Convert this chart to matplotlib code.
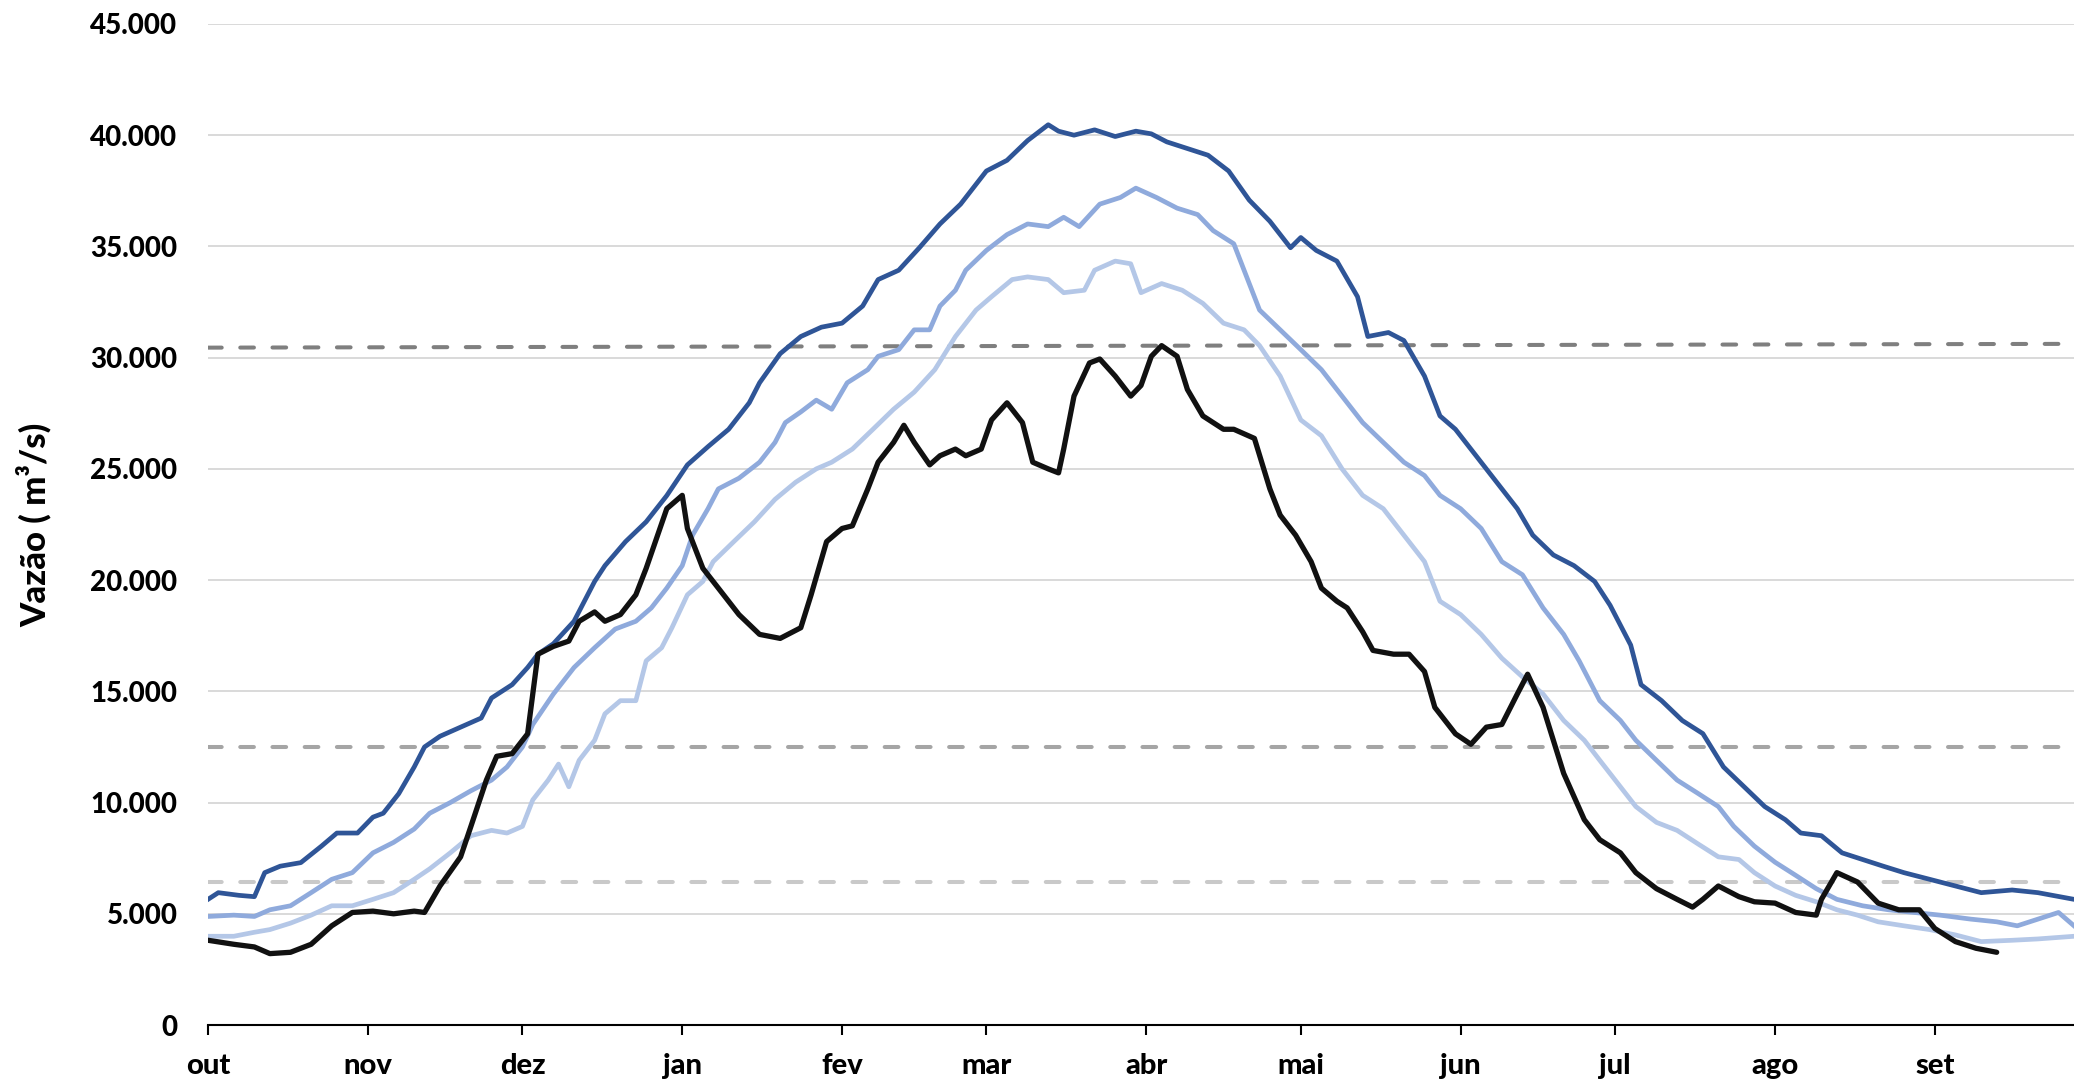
import numpy as np
import matplotlib
matplotlib.use("Agg")
import matplotlib.pyplot as plt
from matplotlib.ticker import FuncFormatter

# dias contados a partir de 1 de outubro
meses = ["out", "nov", "dez", "jan", "fev", "mar", "abr", "mai", "jun", "jul", "ago", "set"]
dias_mes = [31, 30, 31, 31, 28, 31, 30, 31, 30, 31, 31, 30]

dia_escuro = [0, 2, 6, 9, 11, 14, 18, 22, 25, 29, 32, 34, 37, 40, 42, 45, 49, 53, 55, 59, 62, 64, 67, 71,
              75, 77, 81, 85, 89, 93, 97, 101, 105, 107, 111, 115, 119, 123, 127, 130, 134, 138, 142, 146,
              151, 155, 159, 163, 165, 168, 172, 176, 180, 183, 186, 190, 194, 198, 202, 206, 210, 212,
              215, 219, 223, 225, 229, 232, 236, 239, 242, 246, 250, 254, 257, 261, 265, 269, 272, 276,
              278, 282, 286, 290, 294, 298, 302, 306, 309, 313, 317, 321, 325, 329, 334, 339, 344, 350,
              355, 362]
vazao_escuro = [5650, 5950, 5830, 5770, 6850, 7140, 7300, 8040, 8630, 8630, 9345, 9520, 10400, 11600,
                12500, 12980, 13390, 13800, 14700, 15300, 16070, 16670, 17140, 18150, 19940, 20650, 21730,
                22620, 23800, 25180, 26000, 26780, 27970, 28870, 30180, 30950, 31370, 31550, 32320, 33510,
                33930, 34940, 36010, 36900, 38390, 38870, 39760, 40470, 40180, 40000, 40240, 39940, 40180,
                40060, 39700, 39400, 39100, 38390, 37080, 36130, 34940, 35400, 34820, 34340, 32740, 30950,
                31130, 30770, 29170, 27380, 26780, 25590, 24400, 23210, 22020, 21130, 20650, 19940, 18870,
                17080, 15300, 14580, 13690, 13100, 11600, 10710, 9820, 9230, 8630, 8510, 7740, 7440, 7140,
                6850, 6550, 6250, 5950, 6070, 5950, 5650]

dia_medio = [0, 5, 9, 12, 16, 20, 24, 28, 32, 36, 40, 43, 47, 51, 55, 58, 61, 63, 67, 71, 75, 79, 83, 86,
             89, 92, 94, 97, 99, 103, 107, 110, 112, 115, 118, 121, 124, 128, 130, 134, 137, 140, 142,
             145, 147, 151, 155, 159, 163, 166, 169, 173, 177, 180, 184, 188, 192, 195, 199, 202, 204,
             208, 212, 216, 220, 224, 228, 232, 236, 239, 243, 247, 251, 255, 259, 263, 266, 270, 274,
             277, 281, 285, 289, 293, 296, 300, 304, 308, 312, 316, 321, 326, 331, 336, 342, 347, 351,
             355, 359, 362]
vazao_medio = [4880, 4940, 4880, 5180, 5360, 5950, 6550, 6850, 7740, 8210, 8810, 9520, 10000, 10530,
               11010, 11600, 12500, 13510, 14880, 16070, 16960, 17800, 18150, 18750, 19640, 20650, 22020,
               23210, 24100, 24580, 25300, 26190, 27080, 27560, 28090, 27680, 28870, 29460, 30060, 30360,
               31250, 31250, 32320, 33030, 33930, 34820, 35530, 36010, 35890, 36310, 35890, 36900, 37200,
               37620, 37200, 36720, 36430, 35710, 35120, 33330, 32140, 31250, 30360, 29460, 28270, 27080,
               26190, 25300, 24700, 23810, 23210, 22320, 20830, 20240, 18750, 17560, 16370, 14580, 13690,
               12800, 11900, 11010, 10420, 9820, 8930, 8040, 7320, 6730, 6130, 5650, 5360, 5180, 5060,
               4940, 4760, 4640, 4460, 4760, 5060, 4460]

dia_claro = [0, 5, 9, 12, 16, 20, 24, 28, 32, 36, 40, 43, 47, 51, 55, 58, 61, 63, 66, 68, 70, 72, 75, 77,
             80, 83, 85, 88, 90, 93, 96, 98, 102, 106, 110, 114, 118, 121, 125, 129, 133, 137, 141, 145,
             149, 152, 156, 159, 163, 166, 170, 172, 176, 179, 181, 185, 189, 193, 197, 201, 204, 208,
             212, 216, 220, 224, 228, 232, 236, 239, 243, 247, 251, 255, 259, 263, 267, 270, 274, 277,
             281, 285, 289, 293, 297, 300, 304, 308, 312, 316, 320, 324, 329, 334, 339, 344, 350, 355, 362]
vazao_claro = [3990, 3990, 4170, 4290, 4580, 4940, 5360, 5360, 5650, 5950, 6550, 7020, 7740, 8510, 8750,
               8630, 8930, 10120, 11010, 11730, 10710, 11900, 12800, 13990, 14580, 14580, 16370, 16960,
               17860, 19340, 19940, 20830, 21730, 22620, 23630, 24400, 25000, 25300, 25890, 26780, 27680,
               28450, 29460, 30950, 32140, 32740, 33510, 33630, 33510, 32920, 33030, 33930, 34340, 34220,
               32920, 33330, 33030, 32440, 31550, 31250, 30540, 29170, 27200, 26490, 25000, 23810, 23210,
               22020, 20830, 19050, 18450, 17560, 16490, 15650, 14880, 13690, 12800, 11900, 10710, 9820,
               9110, 8750, 8150, 7560, 7440, 6850, 6250, 5830, 5540, 5180, 4940, 4640, 4460, 4290, 4050,
               3750, 3810, 3870, 3990]

dia_atual = [0, 5, 9, 12, 16, 20, 24, 28, 32, 36, 40, 42, 45, 49, 51, 54, 56, 59, 62, 64, 67, 70, 72, 75,
             77, 80, 83, 85, 89, 92, 93, 96, 99, 103, 107, 111, 115, 117, 120, 123, 125, 128, 130, 133,
             135, 137, 140, 142, 145, 147, 150, 152, 155, 158, 160, 163, 165, 166, 168, 171, 173, 176,
             179, 181, 183, 185, 188, 190, 193, 197, 199, 203, 206, 208, 211, 214, 216, 219, 221, 224,
             226, 230, 233, 236, 238, 242, 245, 248, 251, 254, 256, 259, 263, 267, 270, 274, 277, 281,
             285, 288, 290, 293, 297, 300, 304, 308, 312, 313, 316, 320, 324, 328, 332, 335, 339, 343, 347]
vazao_atual = [3810, 3630, 3510, 3210, 3270, 3630, 4460, 5060, 5120, 5000, 5120, 5060, 6250, 7560, 8930,
               11010, 12080, 12200, 13090, 16670, 17020, 17260, 18150, 18570, 18150, 18450, 19340, 20530,
               23210, 23810, 22320, 20530, 19640, 18450, 17560, 17380, 17860, 19340, 21730, 22320, 22440,
               24100, 25300, 26190, 26960, 26190, 25180, 25590, 25890, 25590, 25890, 27200, 27970, 27080,
               25300, 25000, 24820, 25890, 28270, 29760, 29940, 29170, 28270, 28750, 30060, 30540, 30060,
               28570, 27380, 26780, 26780, 26370, 24100, 22920, 22020, 20830, 19640, 19050, 18750, 17680,
               16840, 16670, 16670, 15890, 14280, 13090, 12620, 13390, 13510, 14880, 15770, 14280, 11310,
               9230, 8330, 7740, 6850, 6130, 5650, 5300, 5650, 6250, 5770, 5540, 5480, 5060, 4940, 5650,
               6850, 6430, 5480, 5180, 5180, 4340, 3750, 3450, 3270]

# linhas de referência tracejadas (início e fim do ano)
ref_alta = [30450, 30620]
ref_media = [12500, 12500]
ref_baixa = [6430, 6430]

plt.rcParams["font.family"] = ["Lato", "DejaVu Sans"]
plt.rcParams["font.weight"] = "black"

fig = plt.figure(figsize=(20.74, 10.84), dpi=100)
ax = fig.add_axes([0.1003, 0.0544, 0.8997, 0.9235])

inicio = np.concatenate([[0], np.cumsum(dias_mes)])

for ref, cor in [(ref_alta, "#7f7f7f"), (ref_media, "#a5a5a5"), (ref_baixa, "#c9c9c9")]:
    ax.plot([0, 362], ref, color=cor, lw=2.9, dashes=(3.4, 4.6), dash_capstyle="round", zorder=2)

ax.plot(dia_claro, vazao_claro, color="#b4c7e7", lw=3.4, zorder=3)
ax.plot(dia_medio, vazao_medio, color="#8faadc", lw=3.4, zorder=4)
ax.plot(dia_escuro, vazao_escuro, color="#2f5597", lw=3.4, zorder=5)
ax.plot(dia_atual, vazao_atual, color="#111111", lw=3.8, zorder=6,
        solid_joinstyle="round", solid_capstyle="round")

ax.set_xlim(0, 362)
ax.set_ylim(0, 45000)
ax.set_yticks(np.arange(0, 45001, 5000))
ax.yaxis.set_major_formatter(FuncFormatter(lambda v, p: f"{int(v):,}".replace(",", ".")))
ax.set_xticks(inicio[:-1])
ax.set_xticklabels(meses, fontsize=21, fontweight="black")

ax.grid(axis="y", color="#d9d9d9", lw=1.4, zorder=0)
ax.set_axisbelow(True)
for s in ["top", "right", "left"]:
    ax.spines[s].set_visible(False)
ax.spines["bottom"].set_linewidth(1.5)
ax.tick_params(axis="y", length=0, pad=22, labelsize=20)
ax.tick_params(axis="x", direction="out", length=7, width=1.5, pad=13)

ax.set_ylabel("Vazão ( m³/s)", fontweight="black", fontsize=25, labelpad=28)

fig.savefig("out.png", dpi=100)
